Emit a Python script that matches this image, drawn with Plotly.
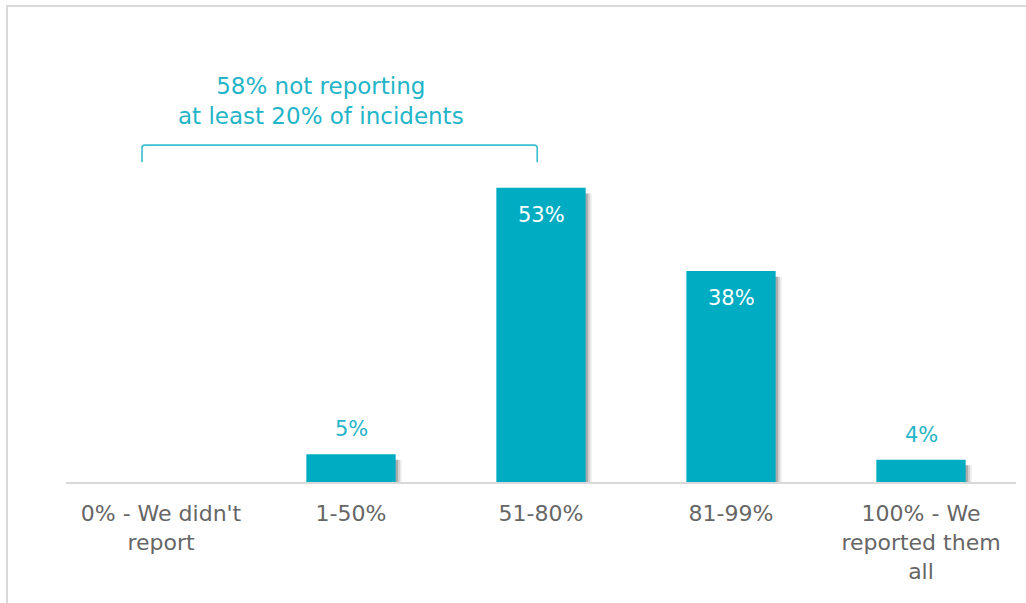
import plotly.graph_objects as go

categories = ["0% - We didn't<br>report", "1-50%", "51-80%", "81-99%", "100% - We<br>reported them<br>all"]
values = [0, 5, 53, 38, 4]
label_inside = [False, False, True, True, False]

bracket_text = "58% not reporting<br>at least 20% of incidents"

BAR = "#00ACC1"
TEAL_TXT = "#22B5C8"
GREY_TXT = "#666666"
FONT = "DejaVu Sans"
BAR_W = 0.47

xs = list(range(len(categories)))

fig = go.Figure()

# soft drop shadow behind each bar (layers of decreasing opacity)
for dx, alpha in [(0.032, 0.07), (0.022, 0.12), (0.012, 0.18)]:
    fig.add_trace(go.Bar(
        x=xs,
        y=[v - 0.4 if v > 0 else None for v in values],
        base=-0.6,
        width=BAR_W,
        offset=-BAR_W / 2 + dx,
        marker=dict(color=f"rgba(0,0,0,{alpha})", line=dict(width=0)),
        hoverinfo="skip",
        showlegend=False,
    ))

fig.add_trace(go.Bar(
    x=xs,
    y=values,
    width=BAR_W,
    offset=-BAR_W / 2,
    marker=dict(color=BAR, line=dict(width=0)),
    showlegend=False,
))

annotations = []
for i, (v, inside) in enumerate(zip(values, label_inside)):
    if v == 0:
        continue
    annotations.append(dict(
        x=i, y=v, xref="x", yref="y",
        text=f"{v}%", showarrow=False,
        yshift=-27 if inside else 25,
        font=dict(family=FONT, size=21, color="white" if inside else TEAL_TXT),
    ))

annotations.append(dict(
    x=0.84, y=68.65, xref="x", yref="y", text=bracket_text, showarrow=False,
    font=dict(family=FONT, size=23, color=TEAL_TXT), align="center",
))

# bracket spanning the first three groups
bx0, bx1, by_top, by_bot = -0.1, 1.98, 60.7, 57.6
bracket_path = (
    f"M {bx0},{by_bot} L {bx0},{by_top - 0.5} "
    f"Q {bx0},{by_top} {bx0 + 0.015},{by_top} "
    f"L {bx1 - 0.015},{by_top} "
    f"Q {bx1},{by_top} {bx1},{by_top - 0.5} L {bx1},{by_bot}"
)

shapes = [
    dict(type="path", path=bracket_path, xref="x", yref="y",
         line=dict(color="#3CBFCF", width=1.6)),
    # outer frame
    dict(type="rect", xref="paper", yref="paper",
         x0=-0.0621, x1=1.03, y0=-0.4, y1=1.053,
         line=dict(color="#DADADA", width=2), layer="below"),
]

fig.update_layout(
    width=1026, height=603,
    margin=dict(l=66, r=10, t=30, b=121),
    paper_bgcolor="white", plot_bgcolor="white",
    barmode="overlay",
    annotations=annotations,
    shapes=shapes,
    font=dict(family=FONT),
)

fig.update_xaxes(
    tickmode="array", tickvals=xs, ticktext=categories,
    range=[-0.5, 4.5],
    showline=True, linecolor="#D9D9D9", linewidth=2,
    showgrid=False, zeroline=False, ticks="",
    ticklabelstandoff=11,
    tickfont=dict(family=FONT, size=22, color=GREY_TXT),
)
fig.update_yaxes(
    range=[0, 452 / 5.55],
    visible=False, showgrid=False, zeroline=False,
)

fig.write_html("out.html")
